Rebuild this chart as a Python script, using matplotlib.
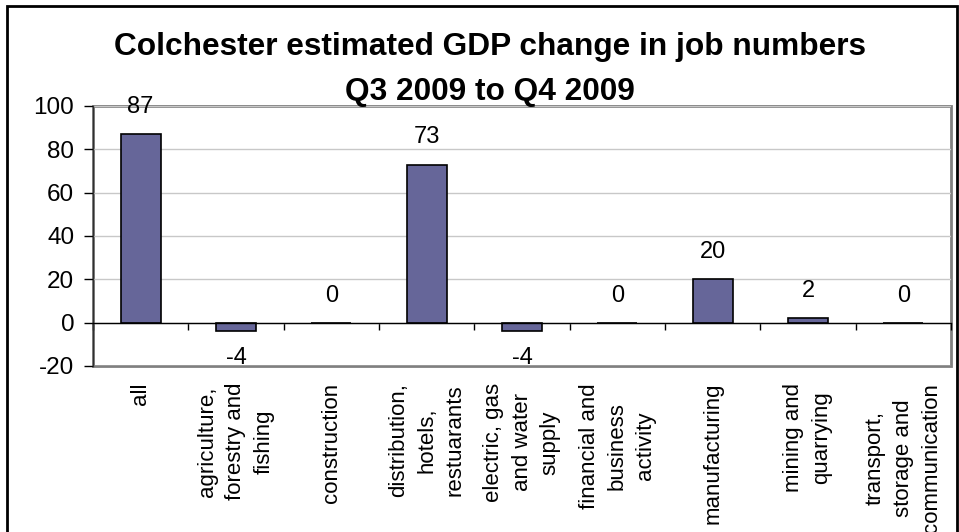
import matplotlib
matplotlib.use("Agg")
import matplotlib.pyplot as plt
from matplotlib.patches import Rectangle
from matplotlib.ticker import FixedLocator

plt.rcParams['font.family'] = ['Liberation Sans', 'DejaVu Sans']
plt.rcParams['axes.unicode_minus'] = False

title_lines = ["Colchester estimated GDP change in job numbers", "Q3 2009 to Q4 2009"]
sectors = [
    "all",
    "agriculture,\nforestry and\nfishing",
    "construction",
    "distribution,\nhotels,\nrestuarants",
    "electric, gas\nand water\nsupply",
    "financial and\nbusiness\nactivity",
    "manufacturing",
    "mining and\nquarrying",
    "transport,\nstorage and\ncommunication",
]
job_change = [87, -4, 0, 73, -4, 0, 20, 2, 0]
y_ticks = [-20, 0, 20, 40, 60, 80, 100]

bar_color = "#666699"
fig = plt.figure(figsize=(9.59, 5.32), dpi=100)
ax = fig.add_axes([93 / 959, 1 - 366 / 532, (951 - 93) / 959, (366 - 106) / 532])

n = len(sectors)
xs = list(range(n))
ax.bar(xs, job_change, width=0.42, color=bar_color, edgecolor="black", linewidth=1.2, zorder=3)

for x, v in zip(xs, job_change):
    off = 19.5 if v >= 0 else -19.5
    ax.annotate(str(v), (x, v), xytext=(0, off), textcoords="offset points",
                ha="center", va="center", fontsize=17, zorder=4)

ax.set_xlim(-0.5, n - 0.5)
ax.set_ylim(y_ticks[0], y_ticks[-1])
ax.set_yticks(y_ticks)
ax.tick_params(axis="y", direction="out", length=6.5, width=1, colors="black", labelsize=17.5, pad=7)
ax.yaxis.grid(True, color="#c8c8c8", linewidth=1, zorder=0)

# plot area frame in grey, category axis drawn across zero
ax.patch.set_edgecolor("#808080")
ax.patch.set_linewidth(2)
for s in ["top", "right"]:
    ax.spines[s].set_visible(False)
ax.spines["left"].set_color("#303030")
ax.spines["left"].set_linewidth(1)
ax.spines["bottom"].set_position(("data", 0))
ax.spines["bottom"].set_color("black")
ax.spines["bottom"].set_linewidth(1)
ax.spines["bottom"].set_zorder(5)
ax.xaxis.set_major_locator(FixedLocator([i - 0.5 for i in range(n + 1)]))
ax.tick_params(axis="x", direction="out", length=5, width=1, labelbottom=False)

for x, name in zip(xs, sectors):
    ax.text(x, -0.065, name, transform=ax.get_xaxis_transform(), rotation=90,
            ha="center", va="top", multialignment="center", fontsize=16, linespacing=1.44)

# two-line bold title, baselines 45 px apart
for i, line in enumerate(title_lines):
    fig.text(490 / 959, 1 - (55 + 45 * i) / 532, line, ha="center", va="baseline",
             fontsize=22.8, fontweight="bold")

# outer chart border
fig.patches.append(Rectangle((7 / 959, -0.05), 950 / 959, 1.05 - 6 / 532,
                             transform=fig.transFigure, fill=False,
                             edgecolor="black", linewidth=2, clip_on=False))

fig.savefig("out.png", dpi=100)
